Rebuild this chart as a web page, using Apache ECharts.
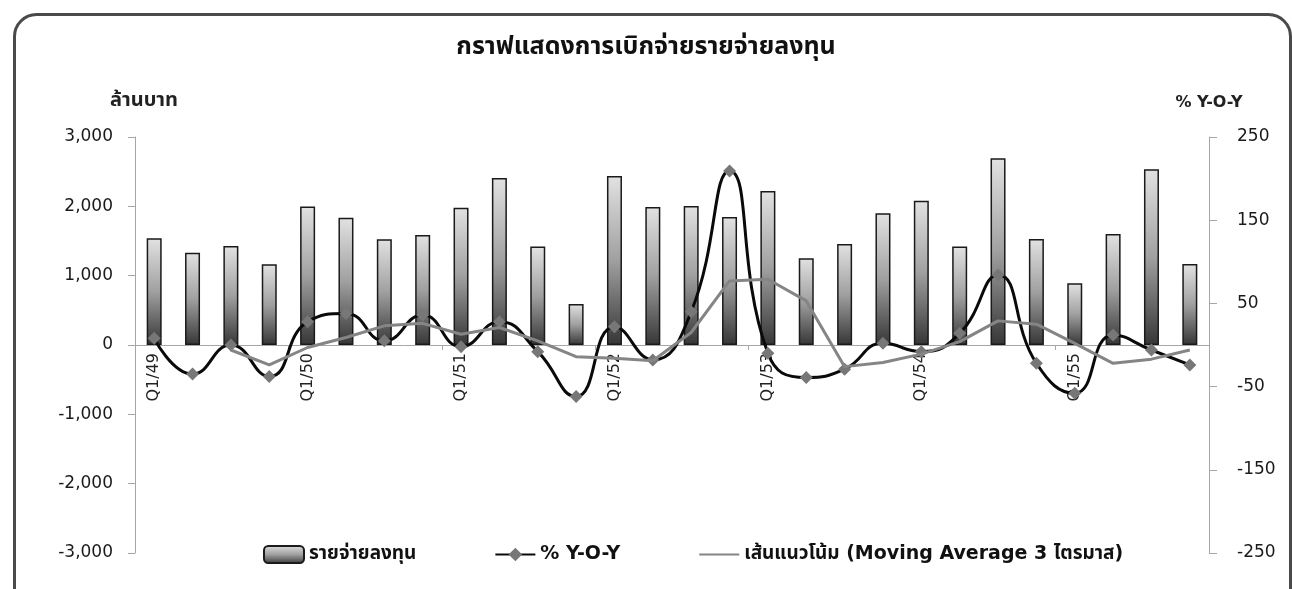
<!DOCTYPE html>
<html>
<head>
<meta charset="utf-8">
<script src="https://cdn.jsdelivr.net/npm/echarts@6/dist/echarts.min.js"></script>
<style>
  html, body { margin: 0; padding: 0; background: #fff; }
  #chart { width: 1292px; height: 589px; }
</style>
</head>
<body>
<div id="chart"></div>
<script>
// ไตรมาส Q1/49 - Q4/55
var quarters = [
  'Q1/49', 'Q2/49', 'Q3/49', 'Q4/49',
  'Q1/50', 'Q2/50', 'Q3/50', 'Q4/50',
  'Q1/51', 'Q2/51', 'Q3/51', 'Q4/51',
  'Q1/52', 'Q2/52', 'Q3/52', 'Q4/52',
  'Q1/53', 'Q2/53', 'Q3/53', 'Q4/53',
  'Q1/54', 'Q2/54', 'Q3/54', 'Q4/54',
  'Q1/55', 'Q2/55', 'Q3/55', 'Q4/55'
];
// รายจ่ายลงทุน (ล้านบาท)
var investSpend = [
  1540, 1332, 1428, 1164,
  1996, 1837, 1525, 1587,
  1981, 2410, 1419, 592,
  2439, 1991, 2006, 1847,
  2222, 1251, 1457, 1900,
  2082, 1419, 2694, 1530,
  890, 1602, 2535, 1169
];
// % Y-O-Y
var yoy = [
  8, -35, 0, -38,
  28, 38, 5, 36,
  -2, 28, -8, -62,
  22, -18, 40, 209,
  -10, -39, -29, 2,
  -8, 14, 84, -22,
  -58, 12, -6, -24
];
// เส้นแนวโน้ม (Moving Average 3 ไตรมาส)
var movingAvg = [
  '-', '-', -6, -24,
  -3, 9, 23, 26,
  13, 21, 5, -14,
  -16, -19, 15, 77,
  79, 53, -26, -21,
  -11, 4, 29, 25,
  2, -22, -17, -6
];
var rightTicks = [-250, -150, -50, 50, 150, 250];

var fontFamily = "Tahoma, 'DejaVu Sans', 'Noto Sans Thai', 'Noto Sans', sans-serif";
var axisGray = '#a6a6a6';

var chart = echarts.init(document.getElementById('chart'));

var barFill = new echarts.graphic.LinearGradient(0, 0, 0, 1, [
  { offset: 0, color: '#e2e2e2' },
  { offset: 0.5, color: '#a0a0a0' },
  { offset: 1, color: '#363636' }
]);

var option = {
  animation: false,
  textStyle: { fontFamily: fontFamily },
  graphic: [{
    type: 'rect',
    left: 12,
    top: 12,
    shape: { width: 1276, height: 600, r: 22 },
    style: { fill: 'none', stroke: '#4a4a4a', lineWidth: 3 },
    z: 100
  }],
  title: {
    text: 'กราฟแสดงการเบิกจ่ายรายจ่ายลงทุน',
    left: 'center',
    top: 30,
    textStyle: { fontSize: 25, fontWeight: 'bold', color: '#111', fontFamily: fontFamily }
  },
  legend: {
    left: 258,
    top: 540,
    itemGap: 78,
    itemWidth: 40,
    itemHeight: 17,
    textStyle: { fontSize: 19, fontWeight: 'bold', color: '#111' },
    data: [
      'รายจ่ายลงทุน',
      '% Y-O-Y',
      { name: 'เส้นแนวโน้ม (Moving Average 3 ไตรมาส)', itemStyle: { opacity: 0 } }
    ]
  },
  grid: { left: 135, right: 83, top: 137, bottom: 36 },
  xAxis: {
    type: 'category',
    data: quarters,
    offset: -208,
    axisLine: { onZero: false, lineStyle: { color: axisGray, width: 1 } },
    axisTick: { show: true, length: 5, lineStyle: { color: axisGray } },
    axisLabel: {
      interval: 3,
      rotate: 90,
      fontSize: 16,
      color: '#222',
      margin: 8
    }
  },
  yAxis: [{
    type: 'value',
    min: -3000,
    max: 3000,
    interval: 1000,
    name: 'ล้านบาท',
    nameGap: 26,
    nameTextStyle: { fontSize: 20, fontWeight: 'bold', color: '#222', padding: [0, 0, 0, 18] },
    axisLine: { show: true, lineStyle: { color: axisGray } },
    axisTick: { show: true, length: 7, lineStyle: { color: axisGray } },
    splitLine: { show: false },
    axisLabel: {
      fontSize: 17,
      color: '#1a1a1a',
      margin: 22,
      formatter: function (v) { return v.toLocaleString('en-US'); }
    }
  }, {
    type: 'value',
    min: -250,
    max: 250,
    name: '% Y-O-Y',
    nameGap: 26,
    nameTextStyle: { fontSize: 16, fontWeight: 'bold', color: '#222' },
    axisLine: { show: true, lineStyle: { color: axisGray } },
    axisTick: { show: true, length: 8, customValues: rightTicks, lineStyle: { color: axisGray } },
    splitLine: { show: false },
    axisLabel: {
      fontSize: 17,
      color: '#1a1a1a',
      margin: 28,
      customValues: rightTicks
    }
  }],
  series: [{
    name: 'รายจ่ายลงทุน',
    type: 'bar',
    barWidth: 15,
    data: investSpend,
    itemStyle: { color: barFill, borderColor: '#1a1a1a', borderWidth: 1.5 }
  }, {
    name: '% Y-O-Y',
    type: 'line',
    yAxisIndex: 1,
    data: yoy,
    smooth: 0.5,
    symbol: 'diamond',
    symbolSize: 13,
    itemStyle: { color: '#777777' },
    lineStyle: { color: '#0a0a0a', width: 3 },
    z: 3
  }, {
    name: 'เส้นแนวโน้ม (Moving Average 3 ไตรมาส)',
    type: 'line',
    yAxisIndex: 1,
    data: movingAvg,
    symbol: 'none',
    itemStyle: { color: '#858585' },
    lineStyle: { color: '#858585', width: 3 },
    z: 4
  }]
};

chart.setOption(option);
</script>
</body>
</html>
